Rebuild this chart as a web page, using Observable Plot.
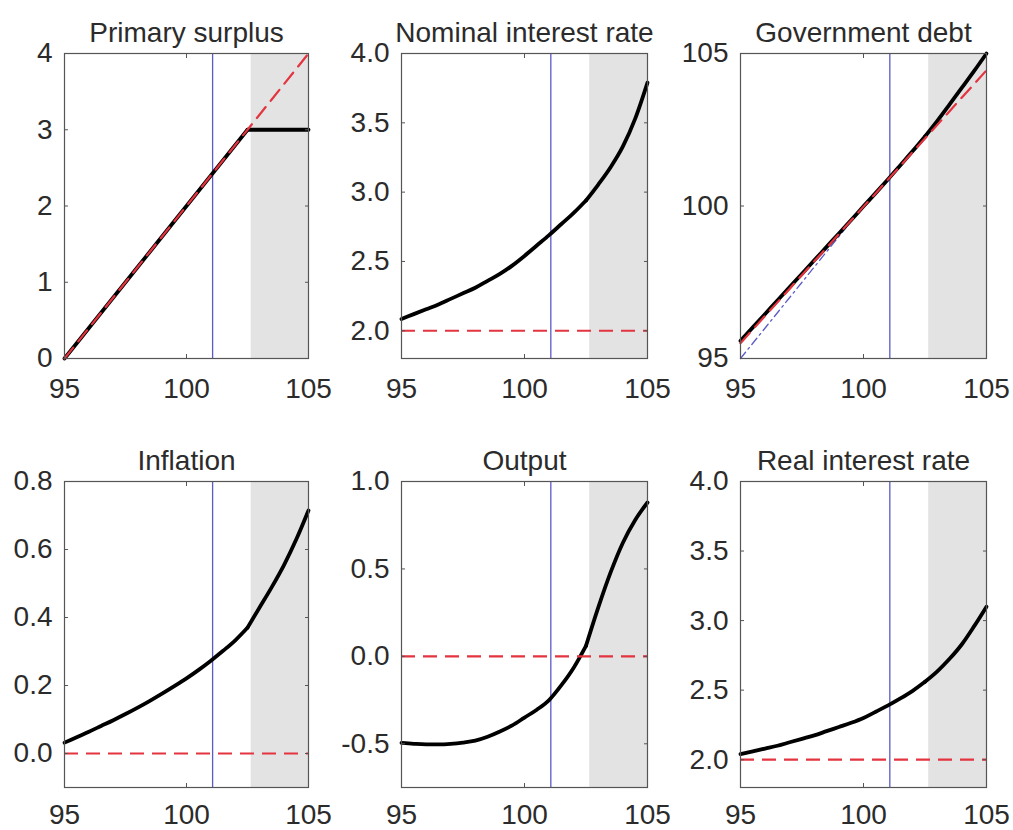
<!DOCTYPE html>
<html><head><meta charset="utf-8">
<script src="https://cdn.jsdelivr.net/npm/d3@7"></script>
<script src="https://cdn.jsdelivr.net/npm/@observablehq/plot@0.6"></script>
<style>
body{margin:0;background:#fff;}
#wrap{position:relative;width:1013px;height:830px;overflow:hidden;background:#fff;}
.panel{position:absolute;}
</style></head><body><div id="wrap"></div>
<script>
// ---- data ----
const xs = [95,95.5,96,96.5,97,97.5,98,98.5,99,99.5,100,100.5,101,101.5,102,102.5,103,103.5,104,104.5,105];

const surplusRef = [0,0.2,0.4,0.6,0.8,1.0,1.2,1.4,1.6,1.8,2.0,2.2,2.4,2.6,2.8,3.0,3.2,3.4,3.6,3.8,4.0];
const surplus    = [0,0.2,0.4,0.6,0.8,1.0,1.2,1.4,1.6,1.8,2.0,2.2,2.4,2.6,2.8,3.0,3.0,3.0,3.0,3.0,3.0];

const nominalRate = [2.085,2.12,2.155,2.19,2.23,2.27,2.31,2.36,2.41,2.47,2.54,2.615,2.69,2.77,2.85,2.94,3.055,3.18,3.33,3.53,3.79];
const nominalRef = 2.0;

const debtRef = [95.5,95.95,96.4,96.84,97.29,97.74,98.19,98.63,99.08,99.53,99.98,100.42,100.87,101.32,101.77,102.21,102.66,103.11,103.56,104.0,104.45];
const debt    = [95.58,96.02,96.46,96.9,97.34,97.78,98.22,98.66,99.1,99.54,99.99,100.43,100.88,101.34,101.8,102.28,102.79,103.33,103.88,104.43,105.0];
const debtDiagX = [95, 99.3];
const debtDiagY = [95, 99.3];

const inflation = [0.032,0.048,0.064,0.081,0.098,0.116,0.135,0.155,0.176,0.198,0.221,0.246,0.273,0.302,0.333,0.370,0.43,0.49,0.555,0.63,0.715];
const inflationRef = 0;

const output = [-0.495,-0.500,-0.503,-0.503,-0.500,-0.493,-0.482,-0.46,-0.43,-0.395,-0.35,-0.305,-0.25,-0.165,-0.065,0.06,0.28,0.48,0.65,0.78,0.88];
const outputRef = 0;

const realRate = [2.04,2.06,2.08,2.10,2.125,2.15,2.175,2.205,2.235,2.265,2.30,2.345,2.39,2.44,2.495,2.56,2.635,2.725,2.83,2.96,3.10];
const realRef = 2.0;

const kinkX = 102.5;
const markerX = 101.07;
const shadeStart = 102.65, shadeEnd = 105;

const xTicks = [95,100,105];
const surplusTicks = [0,1,2,3,4];
const nominalTicks = [2.0,2.5,3.0,3.5,4.0];
const debtTicks = [95,100,105];
const inflationTicks = [0,0.2,0.4,0.6,0.8];
const outputTicks = [-0.5,0,0.5,1.0];
const realTicks = [2.0,2.5,3.0,3.5,4.0];

const titles = ["Primary surplus","Nominal interest rate","Government debt","Inflation","Output","Real interest rate"];

// ---- layout ----
const cols = [[64,308],[401,647],[740,986]];
const rows = [[53,358],[481,787]];
const ML = 64, MT = 53;

const panels = [
  {title: titles[0], y: surplus, ref: surplusRef, curve: "linear", yDomain:[0,4], yTicks: surplusTicks, fmt: d=>String(d), r:0, c:0},
  {title: titles[1], y: nominalRate, refConst: nominalRef, curve: "monotone-x", yDomain:[1.8,4.0], yTicks: nominalTicks, fmt: d=>d.toFixed(1), r:0, c:1},
  {title: titles[2], y: debt, ref: debtRef, diag:true, curve: "monotone-x", yDomain:[95,105], yTicks: debtTicks, fmt: d=>String(d), r:0, c:2},
  {title: titles[3], y: inflation, refConst: inflationRef, curve: "monotone-x", yDomain:[-0.1,0.8], yTicks: inflationTicks, fmt: d=>d.toFixed(1), r:1, c:0},
  {title: titles[4], y: output, refConst: outputRef, curve: "monotone-x", yDomain:[-0.75,1.0], yTicks: outputTicks, fmt: d=>d.toFixed(1), r:1, c:1},
  {title: titles[5], y: realRate, refConst: realRef, curve: "monotone-x", yDomain:[1.8,4.0], yTicks: realTicks, fmt: d=>d.toFixed(1), r:1, c:2},
];

const FONT = "'Liberation Sans', Arial, Helvetica, sans-serif";
const TXT = "#2b2b2b";
const AX = "#555555";
const RED = "#e3343f";
const BLUE = "#5a5ac8";
const FS = 28;

const wrap = document.getElementById("wrap");
for (const p of panels) {
  const [fx0, fx1] = cols[p.c];
  const [fy0, fy1] = rows[p.r];
  const left = fx0 - ML, top = fy0 - MT;
  const width = ML + (fx1 - fx0) + 27;
  const height = p.r === 0 ? MT + (fy1 - fy0) + 55 : 830 - top;
  // two pieces joined at the kink, each smoothed separately
  const data = [];
  xs.forEach((x, i) => {
    if (x <= kinkX) data.push({x, y: p.y[i], seg: 0});
    if (x >= kinkX) data.push({x, y: p.y[i], seg: 1});
  });
  const refData = xs.map((x, i) => ({x, ref: p.ref ? p.ref[i] : null}));
  const marks = [
    Plot.rect([{x1: shadeStart, x2: shadeEnd}], {x1: "x1", x2: "x2", fill: "#e3e3e3"}),
    Plot.ruleX([markerX], {stroke: BLUE, strokeWidth: 1.3}),
  ];
  if (p.diag) {
    marks.push(Plot.line(debtDiagX.map((x,i)=>({x, y: debtDiagY[i]})), {x:"x", y:"y", stroke: BLUE, strokeWidth: 1.3, strokeDasharray: "8,4,2,4"}));
  }
  marks.push(Plot.line(data, {x: "x", y: "y", z: "seg", curve: p.curve, stroke: "#000", strokeWidth: 3.8, strokeLinejoin: "round", strokeLinecap: "round"}));
  if (p.ref) {
    marks.push(Plot.line(refData, {x: "x", y: "ref", stroke: RED, strokeWidth: 2.2, strokeDasharray: "14,8"}));
  } else {
    marks.push(Plot.ruleY([p.refConst], {stroke: RED, strokeWidth: 2.2, strokeDasharray: "14,8"}));
  }
  const xPad = p.r === 0 ? 24 : 21;
  marks.push(
    Plot.axisX({anchor: "bottom", ticks: xTicks, tickSize: -4, tickPadding: xPad, tickFormat: d=>String(d), stroke: AX, fill: TXT, fontSize: FS, label: null}),
    Plot.axisX({anchor: "top", ticks: xTicks, tickSize: -4, tickFormat: () => "", stroke: AX, label: null}),
    Plot.axisY({anchor: "left", ticks: p.yTicks, tickSize: -4, tickPadding: 16, tickFormat: p.fmt, stroke: AX, fill: TXT, fontSize: FS, label: null}),
    Plot.axisY({anchor: "right", ticks: p.yTicks, tickSize: -4, tickFormat: () => "", stroke: AX, label: null}),
    Plot.frame({stroke: AX, strokeWidth: 1.2}),
    Plot.text([p.title], {frameAnchor: "top", lineAnchor: "bottom", dy: -12, fontSize: FS, fill: TXT, text: d => d})
  );
  const chart = Plot.plot({
    width, height,
    marginLeft: ML, marginTop: MT,
    marginRight: width - ML - (fx1 - fx0),
    marginBottom: height - MT - (fy1 - fy0),
    x: {domain: [95, 105]},
    y: {domain: p.yDomain},
    style: {fontFamily: FONT, fontSize: FS + "px", color: TXT, background: "transparent", overflow: "visible"},
    marks
  });
  const div = document.createElement("div");
  div.className = "panel";
  div.style.left = left + "px";
  div.style.top = top + "px";
  div.appendChild(chart);
  wrap.appendChild(div);
}
</script></body></html>
